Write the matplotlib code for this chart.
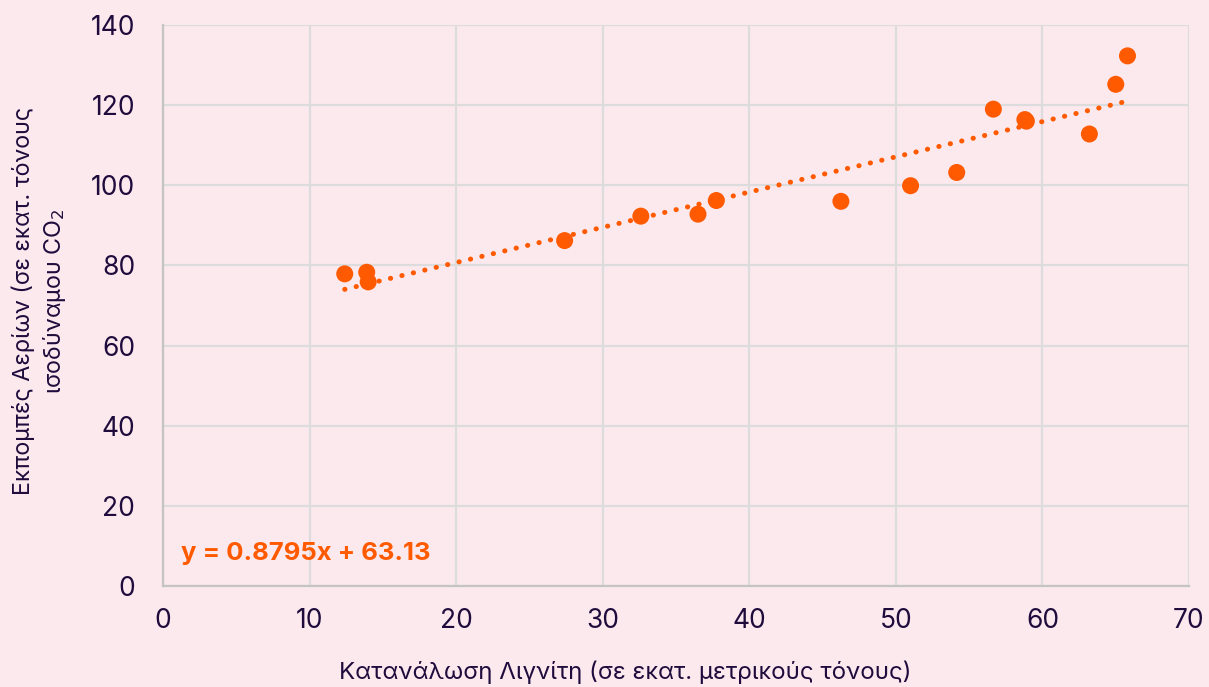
import matplotlib
matplotlib.use("Agg")
import matplotlib.pyplot as plt
import numpy as np

# Lignite consumption (million metric tonnes) vs emissions (Mt CO2 eq.)
lignite = [12.4, 13.9, 14.0, 27.4, 32.6, 36.5, 37.75, 46.25, 51.0, 54.15,
           56.65, 58.8, 58.9, 63.2, 65.0, 65.8]
emissions = [77.9, 78.3, 75.9, 86.2, 92.3, 92.8, 96.2, 96.0, 99.9, 103.2,
             119.0, 116.4, 116.0, 112.8, 125.2, 132.3]

slope = 0.8795
intercept = 63.13

x_ticks = [0, 10, 20, 30, 40, 50, 60, 70]
y_ticks = [0, 20, 40, 60, 80, 100, 120, 140]

bg = "#fce9ee"
ink = "#1f0c3d"
orange = "#ff5a00"
grid_c = "#dcdcdc"
spine_c = "#c4c4c4"

plt.rcParams['font.family'] = ['Inter', 'DejaVu Sans']

fig = plt.figure(figsize=(12.09, 6.87), dpi=100, facecolor=bg)
ax = fig.add_axes([0.1348, 0.147, 0.8487, 0.8166], facecolor=bg)

ax.set_xlim(0, 70)
ax.set_ylim(0, 140)
ax.set_xticks(x_ticks)
ax.set_yticks(y_ticks)
ax.grid(True, color=grid_c, linewidth=1.6, zorder=0)
ax.set_axisbelow(True)

for side in ['top', 'right']:
    ax.spines[side].set_visible(False)
for side in ['left', 'bottom']:
    ax.spines[side].set_color(spine_c)
    ax.spines[side].set_linewidth(1.6)

ax.tick_params(length=0, labelsize=19, labelcolor=ink)
ax.tick_params(axis='x', pad=16)
ax.tick_params(axis='y', pad=20)

# linear trendline
xs = np.array([min(lignite), max(lignite)])
ax.plot(xs, slope * xs + intercept, color=orange, linewidth=3.6,
        linestyle=(0, (0.05, 2.3)), dash_capstyle='round', zorder=2)

ax.scatter(lignite, emissions, s=150, color=orange, edgecolors='none', zorder=3)

ax.text(1.2, 8.2, f"y = {slope}x + {intercept}", color=orange,
        fontsize=18.5, fontweight='bold', va='center', ha='left', zorder=4)

ax.set_xlabel("Κατανάλωση Λιγνίτη (σε εκατ. μετρικούς τόνους)",
              fontsize=17.3, color=ink)
ax.xaxis.set_label_coords(0.451, -0.132)
ax.set_ylabel("Εκπομπές Αερίων (σε εκατ. τόνους\nισοδύναμου CO$_2$",
              fontsize=16.8, color=ink, linespacing=1.3)
ax.yaxis.set_label_coords(-0.0926, 0.508)

fig.savefig("out.png", dpi=100, facecolor=bg)
